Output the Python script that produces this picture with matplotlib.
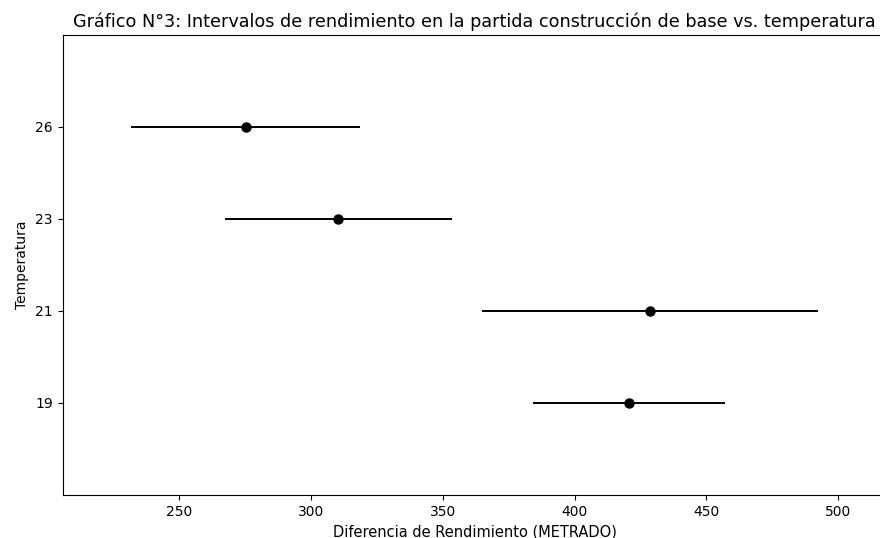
import numpy as np
import matplotlib
matplotlib.use('Agg')
import matplotlib.pyplot as plt

# group means and half-widths of the simultaneous intervals
grupos = ['19', '21', '23', '26']
medias = [420.6, 428.7, 310.4, 275.2]
semianchos = [36.4, 63.8, 43.2, 43.4]

medias = np.array(medias)
semianchos = np.array(semianchos)

fig = plt.figure(figsize=(8.8, 5.38), dpi=100)
ax = fig.add_axes([62.5 / 880, 43 / 538, (887 - 62.5) / 880, (495 - 35) / 538])

ax.errorbar(medias, np.arange(len(medias)), xerr=semianchos,
            marker='o', linestyle='None', color='k', ecolor='k',
            elinewidth=1.4, markersize=6.5)

# same margins as statsmodels plot_simultaneous
lo = np.min(medias - semianchos)
hi = np.max(medias + semianchos)
r = hi - lo
ax.set_xlim(lo - r / 10, hi + r / 10)
ax.set_ylim(-1, len(medias))
ax.set_yticks(np.arange(len(medias)))
ax.set_yticklabels(grupos)
ax.spines['right'].set_visible(False)

ax.tick_params(labelsize=10)
ax.set_title('Gráfico N°3: Intervalos de rendimiento en la partida construcción de base vs. temperatura',
             fontsize=12.7)
ax.set_xlabel('Diferencia de Rendimiento (METRADO)', fontsize=10.5)
ax.set_ylabel('Temperatura', fontsize=10)

fig.savefig('out.png', dpi=100)
